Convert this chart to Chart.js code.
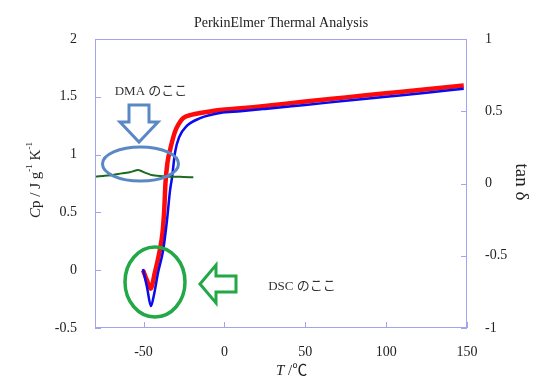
<!DOCTYPE html>
<html>
<head>
<meta charset="utf-8">
<script src="https://cdn.jsdelivr.net/npm/chart.js@4"></script>
<style>
  body { margin: 0; background: #fff; }
  canvas { display: block; }
</style>
</head>
<body>
<canvas id="c" width="540" height="389"></canvas>
<script>
// DSC Cp (left axis) and DMA tan δ (right axis) vs temperature
const redT   = [-50.3, -47.8, -45.6, -43.0, -40.0, -38.3, -37.2, -36.4, -35.2, -33.6, -30.5, -28.0, -25.6, -20.0, -15.0, -8.0, -2.7, 10, 25, 50, 75, 100, 125, 148];
const redCp  = [0.0, -0.09, -0.16, -0.02, 0.17, 0.32, 0.52, 0.76, 0.93, 1.04, 1.20, 1.27, 1.315, 1.345, 1.36, 1.375, 1.386, 1.40, 1.42, 1.46, 1.495, 1.53, 1.565, 1.598];

const blueT  = [-50.3, -47.8, -45.4, -43.5, -41.0, -37.9, -35.5, -33.6, -32.4, -30.5, -28.0, -23.1, -15.0, -8.0, -2.7, 10, 25, 50, 75, 100, 125, 148];
const blueCp = [0.01, -0.15, -0.31, -0.21, -0.02, 0.17, 0.43, 0.69, 0.80, 1.02, 1.15, 1.25, 1.315, 1.345, 1.36, 1.375, 1.395, 1.43, 1.465, 1.50, 1.535, 1.570];

const dmaT   = [-80, -74.9, -68.7, -63.5, -58.4, -53.2, -49.1, -44.9, -39.8, -33.6, -27.4, -19.2];
const dmaTan = [0.047, 0.052, 0.059, 0.070, 0.078, 0.093, 0.075, 0.059, 0.052, 0.047, 0.047, 0.043];

const xTicks     = [-50, 0, 50, 100, 150];
const leftTicks  = [-0.5, 0, 0.5, 1, 1.5, 2];
const rightTicks = [-1, -0.5, 0, 0.5, 1];

const serif = '"Liberation Serif", "Noto Sans CJK JP", serif';
const jp = '"Liberation Serif", "Noto Sans CJK JP", sans-serif';
const axisColor = '#a4a4ee';

function pts(xs, ys) { return xs.map((x, i) => ({ x: x, y: ys[i] })); }

const decor = {
  id: 'decor',
  afterDraw(chart) {
    const ctx = chart.ctx;
    const a = chart.chartArea;
    const sx = chart.scales.x, sl = chart.scales.y, sr = chart.scales.y2;
    ctx.save();
    // frame
    ctx.strokeStyle = axisColor;
    ctx.lineWidth = 1;
    ctx.strokeRect(a.left + 0.5, a.top + 0.5, a.right - a.left - 1, a.bottom - a.top - 1);
    // inward tick marks
    ctx.beginPath();
    xTicks.forEach(v => { const p = Math.round(sx.getPixelForValue(v)) + 0.5; ctx.moveTo(p, a.bottom); ctx.lineTo(p, a.bottom - 6); });
    leftTicks.forEach(v => { const p = Math.round(sl.getPixelForValue(v)) + 0.5; ctx.moveTo(a.left, p); ctx.lineTo(a.left + 6, p); });
    rightTicks.forEach(v => { const p = Math.round(sr.getPixelForValue(v)) + 0.5; ctx.moveTo(a.right, p); ctx.lineTo(a.right - 6, p); });
    ctx.stroke();

    ctx.fillStyle = '#222';
    ctx.textBaseline = 'middle';
    // title
    ctx.font = '14px ' + serif;
    ctx.textAlign = 'center';
    ctx.fillText('PerkinElmer Thermal Analysis', (a.left + a.right) / 2, 23);

    // x title: T /℃
    ctx.textAlign = 'left';
    const tx = 276, ty = 371;
    ctx.font = 'italic 15px ' + serif;
    ctx.fillText('T', tx, ty);
    let w = ctx.measureText('T').width;
    ctx.font = '15px ' + serif;
    ctx.fillText(' /℃', tx + w, ty);

    // left title: Cp / J g-1 K-1
    const segs = [
      { t: 'C', f: 'italic 15px ' + serif, dy: 0 },
      { t: 'p / J g', f: '15px ' + serif, dy: 0 },
      { t: '-1', f: '9px ' + serif, dy: -6 },
      { t: ' K', f: '15px ' + serif, dy: 0 },
      { t: '-1', f: '9px ' + serif, dy: -6 }
    ];
    let total = 0;
    segs.forEach(s => { ctx.font = s.f; s.w = ctx.measureText(s.t).width; total += s.w; });
    ctx.save();
    ctx.translate(36, 180);
    ctx.rotate(-Math.PI / 2);
    let cx = -total / 2;
    segs.forEach(s => { ctx.font = s.f; ctx.fillText(s.t, cx, s.dy); cx += s.w; });
    ctx.restore();

    // right title: tan δ
    ctx.save();
    ctx.translate(521, 182);
    ctx.rotate(Math.PI / 2);
    ctx.textAlign = 'center';
    ctx.font = '19px ' + serif;
    ctx.fillText('tan δ', 0, 0);
    ctx.restore();

    // annotations
    ctx.font = '13px ' + jp;
    ctx.textAlign = 'center';
    ctx.fillStyle = '#333';
    ctx.fillText('DMA のここ', 151, 92);
    ctx.fillText('DSC のここ', 302, 287);

    ctx.lineJoin = 'miter';
    // blue ellipse + down arrow
    ctx.strokeStyle = '#5a88c4';
    ctx.lineWidth = 3;
    ctx.beginPath();
    ctx.ellipse(140.5, 164, 38, 17, 0, 0, Math.PI * 2);
    ctx.stroke();
    ctx.beginPath();
    ctx.moveTo(129, 105); ctx.lineTo(149, 105); ctx.lineTo(149, 122); ctx.lineTo(158, 122);
    ctx.lineTo(139, 142); ctx.lineTo(120, 122); ctx.lineTo(129, 122); ctx.closePath();
    ctx.fillStyle = '#fff';
    ctx.fill();
    ctx.stroke();

    // green ellipse + left arrow
    ctx.strokeStyle = '#22a846';
    ctx.lineWidth = 3.5;
    ctx.beginPath();
    ctx.ellipse(155, 282, 30, 35, 0, 0, Math.PI * 2);
    ctx.stroke();
    ctx.lineWidth = 3;
    ctx.beginPath();
    ctx.moveTo(200, 284); ctx.lineTo(216, 265); ctx.lineTo(216, 276); ctx.lineTo(236, 276);
    ctx.lineTo(236, 292); ctx.lineTo(216, 292); ctx.lineTo(216, 303); ctx.closePath();
    ctx.fillStyle = '#fff';
    ctx.fill();
    ctx.stroke();
    ctx.restore();
  }
};

new Chart(document.getElementById('c'), {
  type: 'line',
  data: {
    datasets: [
      { label: 'tan δ', data: pts(dmaT, dmaTan), yAxisID: 'y2', borderColor: '#1b6b1f', borderWidth: 2, pointRadius: 0, tension: 0.2 },
      { label: 'Cp 2', data: pts(blueT, blueCp), yAxisID: 'y', borderColor: '#0a0aee', borderWidth: 2.5, pointRadius: 0, cubicInterpolationMode: 'monotone' },
      { label: 'Cp 1', data: pts(redT, redCp), yAxisID: 'y', borderColor: '#ff0a0a', borderWidth: 4.5, pointRadius: 0, cubicInterpolationMode: 'monotone' }
    ]
  },
  options: {
    responsive: false,
    animation: false,
    layout: { padding: { top: 39, left: 0, right: 0, bottom: 0 } },
    plugins: { legend: { display: false }, tooltip: { enabled: false } },
    scales: {
      x: {
        type: 'linear', min: -80, max: 150,
        afterBuildTicks: s => { s.ticks = xTicks.map(v => ({ value: v })); },
        afterFit: s => { s.height = 61; },
        grid: { display: false }, border: { display: false },
        ticks: { padding: 8, color: '#222', font: { family: serif, size: 14 }, callback: v => String(v) }
      },
      y: {
        position: 'left', min: -0.5, max: 2,
        afterBuildTicks: s => { s.ticks = leftTicks.map(v => ({ value: v })); },
        afterFit: s => { s.width = 95; },
        grid: { display: false }, border: { display: false },
        ticks: { padding: 10, color: '#222', font: { family: serif, size: 14 }, callback: v => String(v) }
      },
      y2: {
        position: 'right', min: -1, max: 1,
        afterBuildTicks: s => { s.ticks = rightTicks.map(v => ({ value: v })); },
        afterFit: s => { s.width = 73; },
        grid: { display: false }, border: { display: false },
        ticks: { padding: 10, color: '#222', font: { family: serif, size: 14 }, callback: v => String(v) }
      }
    }
  },
  plugins: [decor]
});
</script>
</body>
</html>
